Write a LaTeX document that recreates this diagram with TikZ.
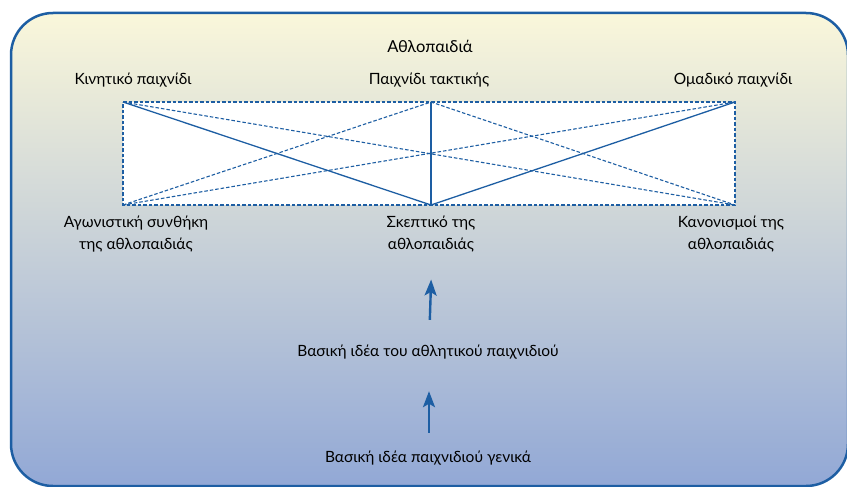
\documentclass[tikz,border=0pt]{standalone}
\usepackage{fontspec}
\setmainfont{Lato}
\usetikzlibrary{positioning,arrows.meta}
\definecolor{rim}{HTML}{1D5EA3}
\definecolor{cream}{HTML}{FAF7DA}
\definecolor{haze}{HTML}{D3D8DF}
\definecolor{sky}{HTML}{92A8D6}

\begin{document}
\begin{tikzpicture}[x=1pt,y=1pt,font=\fontsize{15.5}{22}\selectfont,
  lab/.style={align=center,inner sep=0pt},
  line lab/.style={inner sep=0pt,text height=11pt,text depth=4pt},
  solid line/.style={rim,line width=1.3pt},
  dash line/.style={rim,line width=1.1pt,dash pattern=on 3.5pt off 2pt},
  up arrow/.style={rim,line width=2.4pt,-{Stealth[length=16pt,width=12pt,inset=3.5pt]}}]
\useasboundingbox (0,0) rectangle (847,-487);
\clip (0,0) rectangle (847,-487);
\shade[rounded corners=42pt,top color=cream,middle color=haze,bottom color=sky]
  (11,-13) rectangle (848,-486);
\draw[rim,line width=2.5pt,rounded corners=42pt] (11,-13) rectangle (848,-486);

\node[font=\fontsize{16.5}{20}\selectfont] (title) at (430,-46) {Αθλοπαιδιά};

% corners of the frame
\coordinate (kin) at (123,-102);
\coordinate (tak) at (431,-102);
\coordinate (omad) at (735,-102);
\coordinate (agon) at (123,-205);
\coordinate (skep) at (431,-205);
\coordinate (kan) at (735,-205);
\fill[white] (kin) rectangle (kan);

\draw[dash line] (kin) -- (omad) -- (kan) -- (agon) -- cycle;
\draw[dash line] (kin) -- (kan);
\draw[dash line] (agon) -- (omad);
\draw[dash line] (agon) -- (tak) -- (kan);
\draw[solid line] (kin) -- (skep) -- (omad);
\draw[solid line] (tak) -- (skep);

\node[lab] (kinl) at (133,-80) {Κινητικό παιχνίδι};
\node[lab] (takl) at (429,-80) {Παιχνίδι τακτικής};
\node[lab] (omadl) at (733,-80) {Ομαδικό παιχνίδι};
\node[lab,anchor=north] (agonl) at (136,-216) {Αγωνιστική συνθήκη\\της αθλοπαιδιάς};
\node[lab,anchor=north] (skepl) at (431,-216) {Σκεπτικό της\\αθλοπαιδιάς};
\node[lab,anchor=north] (kanl) at (731,-216) {Κανονισμοί της\\αθλοπαιδιάς};

\node[line lab] (athl) at (428,-353) {Βασική ιδέα του αθλητικού παιχνιδιού};
\node[line lab] (gen) at (428,-459) {Βασική ιδέα παιχνιδιού γενικά};

\draw[up arrow,shorten <=25.5pt,shorten >=27pt] ([xshift=1pt]athl.north) -- ([xshift=1pt]skepl.south);
\draw[up arrow,shorten <=18.5pt,shorten >=30.5pt] ([xshift=1pt]gen.north) -- ([xshift=1pt]athl.south);
\end{tikzpicture}
\end{document}
